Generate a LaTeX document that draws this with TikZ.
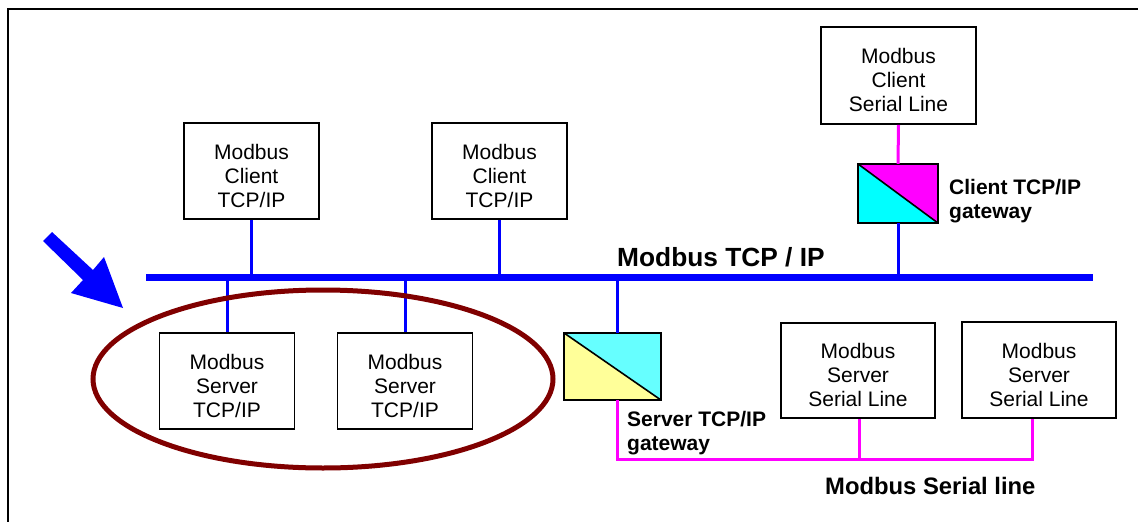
\documentclass[tikz,border=0pt]{standalone}
\usepackage{fontspec}
\setmainfont{Liberation Sans}
\definecolor{busblue}{HTML}{0000FF}
\definecolor{serialmag}{HTML}{FF00FF}
\definecolor{gwcyan}{HTML}{00FFFF}
\definecolor{gwcyanlight}{HTML}{66FFFF}
\definecolor{gwyellow}{HTML}{FFFF99}
\definecolor{ovalred}{HTML}{800000}
\begin{document}
\begin{tikzpicture}[x=1pt,y=-1pt,
  devbox/.style={draw=black,line width=1.7pt,fill=white,inner sep=0pt,rectangle},
  devtext/.style={inner sep=0pt,align=center,font=\fontsize{21}{24}\selectfont},
  gwbox/.style={inner sep=0pt,rectangle},
  boldlabel/.style={inner sep=0pt,align=left,font=\fontsize{21}{24}\selectfont\bfseries},
  tcpline/.style={draw=busblue,line width=3pt},
  busline/.style={draw=busblue,line width=7pt},
  serline/.style={draw=serialmag,line width=3pt},
  gwedge/.style={draw=black,line width=1.6pt}]
\useasboundingbox (0,0) rectangle (1138,522);
% outer frame
\draw[line width=1.5pt] (8,530) -- (8,9) -- (1146,9);

% bus
\coordinate (busL) at (146,277);
\coordinate (busR) at (1093,277);
\coordinate (sgx) at (617,277);

% client TCP/IP boxes
\node[devbox,minimum width=135pt,minimum height=96pt] (c1) at (251.5,171) {};
\node[devtext] (c1t) at ([yshift=-4.5pt]c1.center) {Modbus\\Client\\TCP/IP};
\node[devbox,minimum width=135pt,minimum height=96pt] (c2) at (499.5,171) {};
\node[devtext] (c2t) at ([yshift=-4.5pt]c2.center) {Modbus\\Client\\TCP/IP};

% serial client
\node[devbox,minimum width=155pt,minimum height=97pt] (sc) at (898.5,75.5) {};
\node[devtext] (sct) at ([yshift=-4.5pt]sc.center) {Modbus\\Client\\Serial Line};

% server TCP/IP boxes
\node[devbox,minimum width=135pt,minimum height=96pt] (s1) at (227,381) {};
\node[devtext] (s1t) at ([yshift=-4.5pt]s1.center) {Modbus\\Server\\TCP/IP};
\node[devbox,minimum width=135pt,minimum height=96pt] (s2) at (405,381) {};
\node[devtext] (s2t) at ([yshift=-4.5pt]s2.center) {Modbus\\Server\\TCP/IP};

% serial server boxes
\node[devbox,minimum width=154pt,minimum height=95pt] (ss1) at (858,370.5) {};
\node[devtext] (ss1t) at ([yshift=-4.5pt]ss1.center) {Modbus\\Server\\Serial Line};
\node[devbox,minimum width=154pt,minimum height=96pt] (ss2) at (1039,370) {};
\node[devtext] (ss2t) at ([yshift=-4.5pt]ss2.center) {Modbus\\Server\\Serial Line};

% client gateway
\node[gwbox,minimum width=80pt,minimum height=59pt] (cg) at (898,193.5) {};
\fill[serialmag] (cg.north west) -- (cg.north east) -- (cg.south east) -- cycle;
\fill[gwcyan] (cg.north west) -- (cg.south west) -- (cg.south east) -- cycle;
\draw[gwedge] (cg.north west) rectangle (cg.south east);
\draw[gwedge] (cg.north west) -- (cg.south east);

% server gateway
\node[gwbox,minimum width=97pt,minimum height=67pt] (sg) at (612.5,366.5) {};
\fill[gwcyanlight] (sg.north west) -- (sg.north east) -- (sg.south east) -- cycle;
\fill[gwyellow] (sg.north west) -- (sg.south west) -- (sg.south east) -- cycle;
\draw[gwedge] (sg.north west) rectangle (sg.south east);
\draw[gwedge] (sg.north west) -- (sg.south east);

% blue TCP/IP connectors
\draw[tcpline] (c1.south) -- (c1.south |- busL);
\draw[tcpline] (c2.south) -- (c2.south |- busL);
\draw[tcpline] (cg.south) -- (cg.south |- busL);
\draw[tcpline] (s1.north) -- (s1.north |- busL);
\draw[tcpline] (s2.north) -- (s2.north |- busL);
\draw[tcpline] (sgx) -- (sgx |- sg.north);
\draw[busline] (busL) -- (busR);

% serial connectors
\coordinate (sgb) at (617,459);
\coordinate (ss1b) at (859,459);
\coordinate (ss2b) at (1032,459);
\draw[serline] (sc.south) -- (cg.north);
\draw[serline] (sgb |- sg.south) -- (sgb) -- (ss2b) -- (ss2b |- ss2.south);
\draw[serline] (ss1b) -- (ss1b |- ss1.south);

% labels
\node[boldlabel,anchor=base west,font=\fontsize{26.3}{29}\selectfont\bfseries] (buslbl) at (617,266) {Modbus TCP / IP};
\node[boldlabel,anchor=north west] (cglbl) at (949,179) {Client TCP/IP\\gateway};
\node[boldlabel,anchor=north west] (sglbl) at (627,411.5) {Server TCP/IP\\gateway};
\node[boldlabel,anchor=base west,font=\fontsize{23.8}{27}\selectfont\bfseries] (serlbl) at (825,494) {Modbus Serial line};

% highlight oval
\draw[ovalred,line width=5pt] (323,379) ellipse [x radius=230, y radius=89];

% blue pointer arrow
\fill[busblue] (43,241) -- (52,232) -- (93,270) -- (104,257) -- (123,308) -- (71,293) -- (83,280) -- cycle;
\end{tikzpicture}
\end{document}
